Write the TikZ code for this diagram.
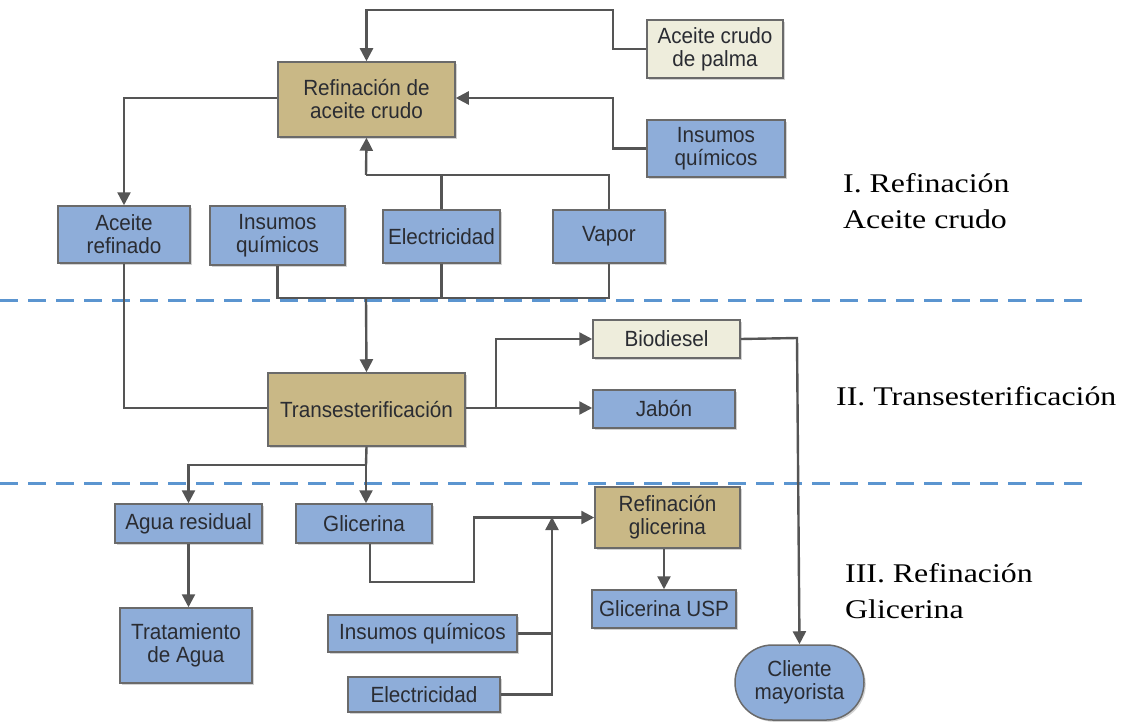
\documentclass[tikz,border=0pt]{standalone}
\usepackage{fontspec}
\setmainfont{Liberation Serif}[FakeStretch=1.18]
\newfontfamily\boxfont{Liberation Sans}[FakeStretch=0.94]
\usetikzlibrary{arrows.meta,shadows,shapes.misc}
\definecolor{boxblue}{HTML}{8EADD9}
\definecolor{boxtan}{HTML}{C9B886}
\definecolor{boxcream}{HTML}{EEEDDC}
\definecolor{boxedge}{HTML}{6A6A6A}
\definecolor{flow}{HTML}{555555}
\definecolor{txt}{HTML}{2A2C32}
\definecolor{sep}{HTML}{5B95D0}
\tikzset{
  base/.style={draw=boxedge, line width=1.5pt, text=txt, align=center,
    font=\boxfont\fontsize{22}{23}\selectfont, inner sep=0pt,
    drop shadow={shadow xshift=1.8pt, shadow yshift=-1.8pt, opacity=0.35}},
  bluebox/.style={base, fill=boxblue},
  tanbox/.style={base, fill=boxtan},
  creambox/.style={base, fill=boxcream},
  flowline/.style={draw=flow, line width=2.4pt},
  flowarrow/.style={flowline, -{Triangle[length=13pt,width=13pt]}},
  divider/.style={draw=sep, line width=3pt, dash pattern=on 18pt off 10pt},
  phase/.style={font=\fontsize{27}{36}\selectfont, align=left, anchor=base west, inner sep=0pt}
}
\newcommand{\bx}[7]{%
  \node[#1, minimum width=#4pt, minimum height=#5pt] (#2) at (#3) {#6};}
\begin{document}
\begin{tikzpicture}[x=1pt,y=-1pt]
\useasboundingbox (0,0) rectangle (1130,725);

% phase dividers
\draw[divider] (0,300) -- (1085,300);
\draw[divider] (0,483) -- (1085,483);

% stage I
\bx{tanbox}{rac}{366.5,99.5}{177}{75}{Refinación de\\aceite crudo}{}
\bx{creambox}{acp}{715,49}{136}{58}{Aceite crudo\\de palma}{}
\bx{bluebox}{iq1}{716,148.5}{138}{57}{Insumos\\químicos}{}
\bx{bluebox}{aref}{124,234.5}{132}{57}{Aceite\\refinado}{}
\bx{bluebox}{iq2}{277.5,235.5}{135}{59}{Insumos\\químicos}{}
\bx{bluebox}{ele1}{441.5,236.5}{117}{53}{Electricidad}{}
\bx{bluebox}{vap}{609,236.5}{112}{53}{Vapor}{}

% stage II
\bx{tanbox}{tra}{366.5,409.5}{197}{73}{Transesterificación}{}
\bx{creambox}{bio}{666.5,339}{147}{38}{Biodiesel}{}
\bx{bluebox}{jab}{664,409}{142}{38}{Jabón}{}

% stage III
\bx{bluebox}{agr}{188.5,523.5}{147}{39}{Agua residual}{}
\bx{bluebox}{gli}{364,523.5}{136}{39}{Glicerina}{}
\bx{tanbox}{rgl}{667.5,517.5}{145}{61}{Refinación\\glicerina}{}
\bx{bluebox}{gusp}{664,609}{144}{38}{Glicerina USP}{}
\bx{bluebox}{tag}{186,645.5}{132}{75}{Tratamiento\\de Agua}{}
\bx{bluebox}{iq3}{422.5,633.5}{189}{37}{Insumos químicos}{}
\bx{bluebox}{ele3}{424,694.5}{152}{35}{Electricidad}{}
\node[base, fill=boxblue, rounded rectangle, minimum width=129pt, minimum height=75pt]
  (cli) at (799.5,682.5) {Cliente\\mayorista};

% junction points
\coordinate (jtop) at (366,175);
\coordinate (jbot) at (366,298);
\coordinate (jtr) at (496,408);
\coordinate (jsplit) at (366,465);
\coordinate (jgl) at (552,517);

% stage I flows
\draw[flowarrow] (acp.west) -| (613,10) -| (rac.north);
\draw[flowarrow] (iq1.west) -| (613,98) -- (rac.east |- 0,98);
\draw[flowarrow] (rac.west |- 0,98) -| (aref.north);
\draw[flowline] (vap.north) |- (jtop);
\draw[flowline] (ele1.north) |- (jtop);
\draw[flowarrow] (jtop) -- (rac.south);

% into transesterification
\draw[flowline] (iq2.south) |- (609,298) -- (vap.south);
\draw[flowline] (ele1.south) -- (ele1.south |- jbot);
\draw[flowarrow] (jbot) -- (tra.north);
\draw[flowline] (aref.south) |- (tra.west |- 0,408);

% stage II products
\draw[flowline] (tra.east |- 0,408) -- (jtr);
\draw[flowarrow] (jtr) |- (bio.west);
\draw[flowarrow] (jtr) -- (jab.west |- jtr);
\coordinate (bturn) at (797,338);
\draw[flowarrow] (bio.east) -- (bturn) -- (cli.north);

% stage III flows
\draw[flowline] (tra.south) -- (jsplit);
\draw[flowarrow] (jsplit) -| (agr.north);
\draw[flowarrow] (jsplit) -- (gli.north -| jsplit);
\draw[flowarrow] (agr.south) -- (tag.north -| agr.south);
\draw[flowarrow] (gli.south -| 370,0) |- (474,582) |- (rgl.west);
\draw[flowline] (iq3.east) -- (iq3.east -| jgl);
\draw[flowarrow] (ele3.east) -| (jgl);
\draw[flowarrow] (rgl.south -| gusp.north) -- (gusp.north);

% phase labels (base anchor sits on the last line)
\node[phase] (p1) at (843,228) {I. Refinación\\Aceite crudo};
\node[phase] (p2) at (836,405) {II. Transesterificación};
\node[phase] (p3) at (845,618) {III. Refinación\\Glicerina};
\end{tikzpicture}
\end{document}
